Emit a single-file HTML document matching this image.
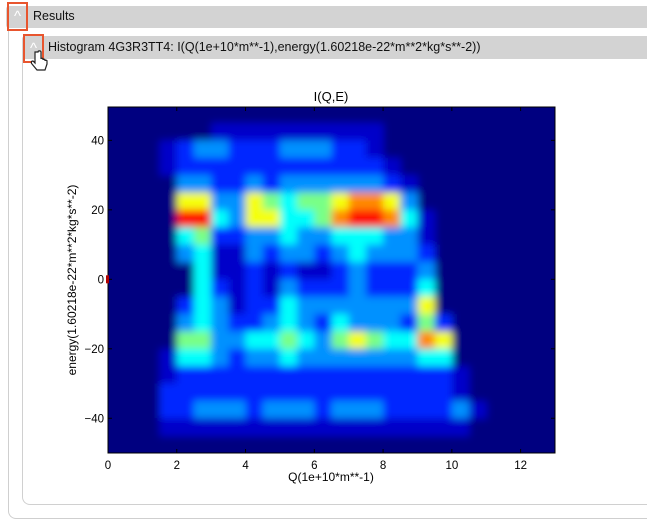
<!DOCTYPE html>
<html><head><meta charset="utf-8">
<style>
body{margin:0;width:647px;height:531px;background:#fff;font-family:"Liberation Sans",sans-serif;position:relative;overflow:hidden}
.abs{position:absolute}
</style></head>
<body>
<div class="abs" style="left:8px;top:16px;width:645px;height:503px;border:1px solid #cfcfcf;border-right:none;border-radius:8px 0 0 8px;box-sizing:border-box"></div>
<div class="abs" style="left:6px;top:6px;width:641px;height:22px;background:#d3d3d3;border-radius:3px 0 0 3px"></div>
<div class="abs" style="left:7px;top:2px;width:17px;height:25px;border:2px solid #e8552e;color:#fff;font-size:15px;text-align:center;line-height:25px">^</div>
<div class="abs" style="left:33px;top:9px;font-size:12.5px;color:#111">Results</div>
<div class="abs" style="left:22px;top:44px;width:625px;height:461px;border:1px solid #d0d0d0;border-right:none;border-radius:8px 0 0 8px;box-sizing:border-box"></div>
<div class="abs" style="left:22px;top:36px;width:625px;height:23px;background:#d3d3d3;border-radius:3px 0 0 3px"></div>
<div class="abs" style="left:23px;top:34px;width:17px;height:25px;border:2px solid #e8552e;color:#fff;font-size:15px;text-align:center;line-height:25px">^</div>
<div class="abs" style="left:48px;top:40px;font-size:12.5px;color:#111;white-space:nowrap">Histogram 4G3R3TT4: I(Q(1e+10*m**-1),energy(1.60218e-22*m**2*kg*s**-2))</div>
<svg class="abs" style="left:30px;top:50px" width="18" height="24" viewBox="0 0 18 24"><path d="M5 2v11l-2-2c-2 0-2 2-1 3l5 6h8l2-6V11c0-1-2-1-2 0V10c0-1-2-1-2 0V9c0-1-2-1-2 0V2c0-1.5-3-1.5-3 0z" fill="#fff" stroke="#222" stroke-width="1.2"/></svg>

<svg class="abs" style="left:0;top:0" width="647" height="531" id="chart">
<defs>
<clipPath id="pc"><rect x="108" y="107" width="447" height="346"/></clipPath>
<filter id="bl" x="-5%" y="-5%" width="110%" height="110%"><feGaussianBlur stdDeviation="4"/></filter>
</defs>
<g clip-path="url(#pc)"><g id="cells" filter="url(#bl)"></g></g>
<g id="axes"></g>
</svg>
<script>
const qRange = [0, 13];
const eRange = [-50, 49.6];
const qTicks = [0, 2, 4, 6, 8, 10, 12];
const eTicks = [40, 20, 0, -20, -40];
const qBinWidth = 0.5;
const eBinEdgesTop = 50;
const eBinWidth = 5;
const intensity = [
"00000000000000000000000000",
"00000011111111110000000000",
"00012332223332210000000000",
"00012222222222221000000000",
"00003322323333332100000000",
"00006633654556776300000000",
"00008843664457887410000000",
"00004522334334443310000000",
"00003411323323433320000000",
"00000411212112322230000000",
"00000421213222322240000000",
"00002431224333333360000000",
"00003432234324333252000000",
"00005533445435654476000000",
"00014432334333333344000000",
"00012222222222222222100000",
"00022222222222222222100000",
"00022333233323332222310000",
"00011111111111111111100000",
"00000000000000000000000000"
];
const vMax = 9;
const X0=108, X1=555, Y0=107, Y1=453;
const NS='http://www.w3.org/2000/svg';
function qx(q){return X0+(q-qRange[0])/(qRange[1]-qRange[0])*(X1-X0);}
function ey(e){return Y1-(e-eRange[0])/(eRange[1]-eRange[0])*(Y1-Y0);}
function jet(v){const t=Math.pow(Math.max(0,Math.min(1,v/vMax)),1.2);const c=x=>Math.round(255*Math.max(0,Math.min(1,1.5-Math.abs(4*t-x))));return `rgb(${c(3)},${c(2)},${c(1)})`;}
const cells=document.getElementById('cells');
const bg=document.createElementNS(NS,'rect');


bg.setAttribute('x',X0-20);bg.setAttribute('y',Y0-20);bg.setAttribute('width',X1-X0+40);bg.setAttribute('height',Y1-Y0+40);bg.setAttribute('fill',jet(0));
cells.appendChild(bg);
intensity.forEach((row,r)=>{
  const eTop=eBinEdgesTop-r*eBinWidth, eBot=eTop-eBinWidth;
  for(let c=0;c<row.length;c++){
    const v=+row[c]; if(!v) continue;
    const rc=document.createElementNS(NS,'rect');
    
    
    const xa=qx(c*qBinWidth), xb=qx((c+1)*qBinWidth);
    rc.setAttribute('x',xa);rc.setAttribute('y',ey(eTop));
    rc.setAttribute('width',xb-xa+0.5);rc.setAttribute('height',ey(eBot)-ey(eTop)+0.5);
    rc.setAttribute('fill',jet(v));
    cells.appendChild(rc);
  }
});
const ax=document.getElementById('axes');
function add(tag,attrs,name,text){const el=document.createElementNS(NS,tag);for(const k in attrs)el.setAttribute(k,attrs[k]);if(text!==undefined)el.textContent=text;ax.appendChild(el);return el;}
add('rect',{x:X0,y:Y0,width:X1-X0,height:Y1-Y0,fill:'none',stroke:'#000','stroke-width':1},'plot-frame');
qTicks.forEach(q=>{const x=qx(q);
  add('line',{x1:x,x2:x,y1:Y1,y2:Y1-4,stroke:'#000'},'x-tick');
  add('line',{x1:x,x2:x,y1:Y0,y2:Y0+4,stroke:'#000'},'x-tick-top');
  add('text',{x:x,y:Y1+16,'text-anchor':'middle','font-size':11.5,fill:'#000'},'x-tick-label',String(q));});
eTicks.forEach(e=>{const y=ey(e);
  add('line',{x1:X0,x2:X0+4,y1:y,y2:y,stroke:'#000'},'y-tick');
  add('line',{x1:X1,x2:X1-4,y1:y,y2:y,stroke:'#000'},'y-tick-right');
  add('text',{x:X0-4,y:y+4,'text-anchor':'end','font-size':11.5,fill:'#000'},'y-tick-label',e<0?'\u2212'+(-e):String(e));});
add('rect',{x:106,y:ey(0)-4,width:3,height:8,fill:'#b00000'},'zero-marker');
add('text',{x:331,y:101,'text-anchor':'middle','font-size':13,fill:'#000'},'chart-title','I(Q,E)');
add('text',{x:331,y:481,'text-anchor':'middle','font-size':12,fill:'#000'},'x-axis-title','Q(1e+10*m**-1)');
add('text',{x:0,y:0,'text-anchor':'middle','font-size':12,fill:'#000',transform:'translate(76,280) rotate(-90)'},'y-axis-title','energy(1.60218e-22*m**2*kg*s**-2)');
</script>
</body></html>
